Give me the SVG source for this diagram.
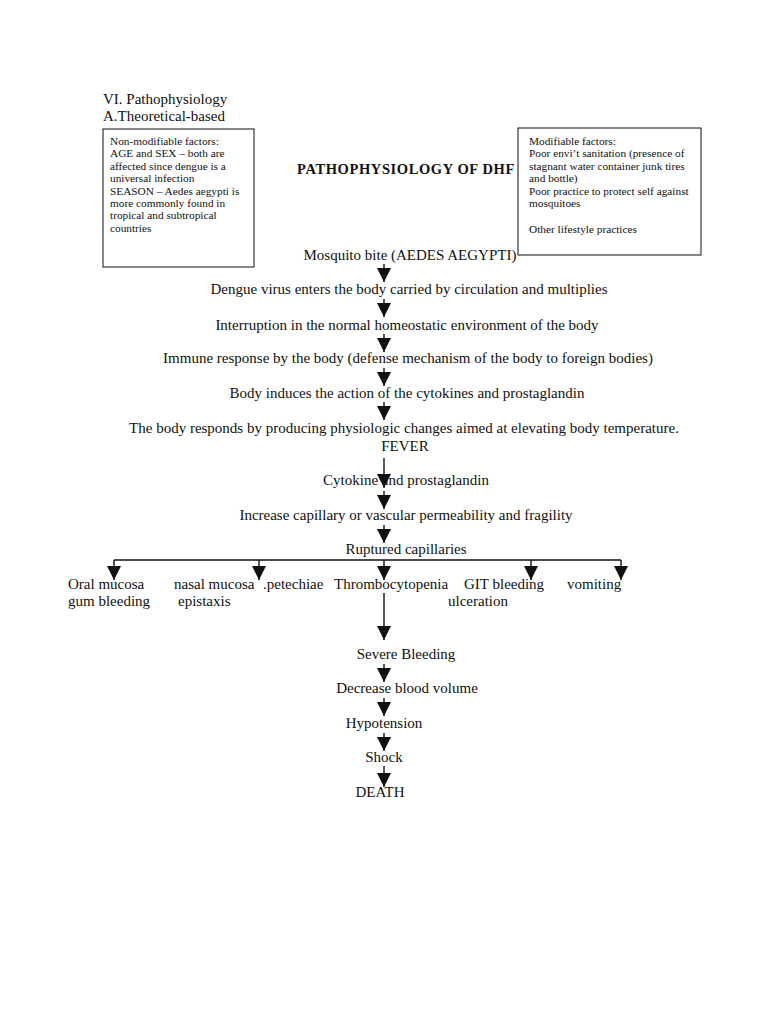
<svg xmlns="http://www.w3.org/2000/svg" width="768" height="1024" viewBox="0 0 768 1024">
<style>
text{font-family:"Liberation Serif","DejaVu Serif",serif;fill:#111}
.m{font-size:15px;text-anchor:middle}
.l{font-size:15px}
.s{font-size:11.3px}
.t{font-size:14.5px;font-weight:bold;text-anchor:middle;letter-spacing:0.6px}
.box{fill:#fff;stroke:#111;stroke-width:1}
.c line,.c path{stroke:#111;stroke-width:1.4;fill:none}
</style>
<defs>
<marker id="ah" markerUnits="userSpaceOnUse" markerWidth="16" markerHeight="16" viewBox="0 0 16 16" refX="15" refY="8" orient="auto">
<path d="M1,1 L15,8 L1,15 Z" fill="#111"/>
</marker>
</defs>
<rect width="768" height="1024" fill="#fff"/>
<g id="header">
<text class="l" x="103" y="104">VI. Pathophysiology</text>
<text class="l" x="103" y="121">A.Theoretical-based</text>
</g>
<g id="nonmod">
<rect class="box" x="103" y="129" width="151" height="138"/>
<text class="s" x="110" y="145">Non-modifiable factors:</text>
<text class="s" x="110" y="157.4">AGE and SEX – both are</text>
<text class="s" x="110" y="169.8">affected since dengue is a</text>
<text class="s" x="110" y="182.2">universal infection</text>
<text class="s" x="110" y="194.6">SEASON – Aedes aegypti is</text>
<text class="s" x="110" y="207">more commonly found in</text>
<text class="s" x="110" y="219.4">tropical and subtropical</text>
<text class="s" x="110" y="231.8">countries</text>
</g>
<g id="mod">
<rect class="box" x="518" y="128" width="183" height="127"/>
<text class="s" x="529" y="145">Modifiable factors:</text>
<text class="s" x="529" y="157.4">Poor envi’t sanitation (presence of</text>
<text class="s" x="529" y="169.8">stagnant water container junk tires</text>
<text class="s" x="529" y="182.2">and bottle)</text>
<text class="s" x="529" y="194.6">Poor practice to protect self against</text>
<text class="s" x="529" y="207">mosquitoes</text>
<text class="s" x="529" y="233">Other lifestyle practices</text>
</g>
<g id="title"><text class="t" x="406" y="174">PATHOPHYSIOLOGY OF DHF</text></g>
<g id="connectors" class="c">
<line x1="384" y1="264" x2="384" y2="282" marker-end="url(#ah)"/>
<line x1="384" y1="299" x2="384" y2="317" marker-end="url(#ah)"/>
<line x1="384" y1="334" x2="384" y2="352" marker-end="url(#ah)"/>
<line x1="384" y1="368" x2="384" y2="386" marker-end="url(#ah)"/>
<line x1="384" y1="402" x2="384" y2="420" marker-end="url(#ah)"/>
<line x1="384" y1="458" x2="384" y2="488" marker-end="url(#ah)"/>
<line x1="384" y1="491" x2="384" y2="509" marker-end="url(#ah)"/>
<line x1="384" y1="525" x2="384" y2="543" marker-end="url(#ah)"/>
<line x1="114" y1="560" x2="621" y2="560"/>
<line x1="114" y1="560" x2="114" y2="580" marker-end="url(#ah)"/>
<line x1="259" y1="560" x2="259" y2="580" marker-end="url(#ah)"/>
<line x1="384" y1="560" x2="384" y2="580" marker-end="url(#ah)"/>
<line x1="531" y1="560" x2="531" y2="580" marker-end="url(#ah)"/>
<line x1="621" y1="560" x2="621" y2="580" marker-end="url(#ah)"/>
<line x1="384" y1="593" x2="384" y2="640" marker-end="url(#ah)"/>
<line x1="384" y1="664" x2="384" y2="682" marker-end="url(#ah)"/>
<line x1="384" y1="698" x2="384" y2="716" marker-end="url(#ah)"/>
<line x1="384" y1="733" x2="384" y2="751" marker-end="url(#ah)"/>
<line x1="384" y1="766" x2="384" y2="787" marker-end="url(#ah)"/>
</g>
<g id="n1"><text class="m" x="410" y="260">Mosquito bite (AEDES AEGYPTI)</text></g>
<g id="n2"><text class="m" x="409" y="294">Dengue virus enters the body carried by circulation and multiplies</text></g>
<g id="n3"><text class="m" x="407" y="330">Interruption in the normal homeostatic environment of the body</text></g>
<g id="n4"><text class="m" x="408" y="363">Immune response by the body (defense mechanism of the body to foreign bodies)</text></g>
<g id="n5"><text class="m" x="407" y="398">Body induces the action of the cytokines and prostaglandin</text></g>
<g id="n6"><text class="m" x="404" y="433">The body responds by producing physiologic changes aimed at elevating body temperature.</text>
<text class="m" x="405" y="451">FEVER</text></g>
<g id="n7"><text class="m" x="406" y="485">Cytokine and prostaglandin</text></g>
<g id="n8"><text class="m" x="406" y="520">Increase capillary or vascular permeability and fragility</text></g>
<g id="n9"><text class="m" x="406" y="554">Ruptured capillaries</text></g>
<g id="r1"><text class="l" x="68" y="589">Oral mucosa</text><text class="l" x="68" y="606">gum bleeding</text></g>
<g id="r2"><text class="l" x="174" y="589">nasal mucosa</text><text class="l" x="178" y="606">epistaxis</text></g>
<g id="r3"><text class="l" x="263" y="589">.petechiae</text></g>
<g id="r4"><text class="l" x="334" y="589">Thrombocytopenia</text></g>
<g id="r5"><text class="l" x="464" y="589">GIT bleeding</text><text class="l" x="448" y="606">ulceration</text></g>
<g id="r6"><text class="l" x="567" y="589">vomiting</text></g>
<g id="n10"><text class="m" x="406" y="659">Severe Bleeding</text></g>
<g id="n11"><text class="m" x="407" y="693">Decrease blood volume</text></g>
<g id="n12"><text class="m" x="384" y="728">Hypotension</text></g>
<g id="n13"><text class="m" x="384" y="762">Shock</text></g>
<g id="n14"><text class="m" x="380" y="797">DEATH</text></g>
</svg>
